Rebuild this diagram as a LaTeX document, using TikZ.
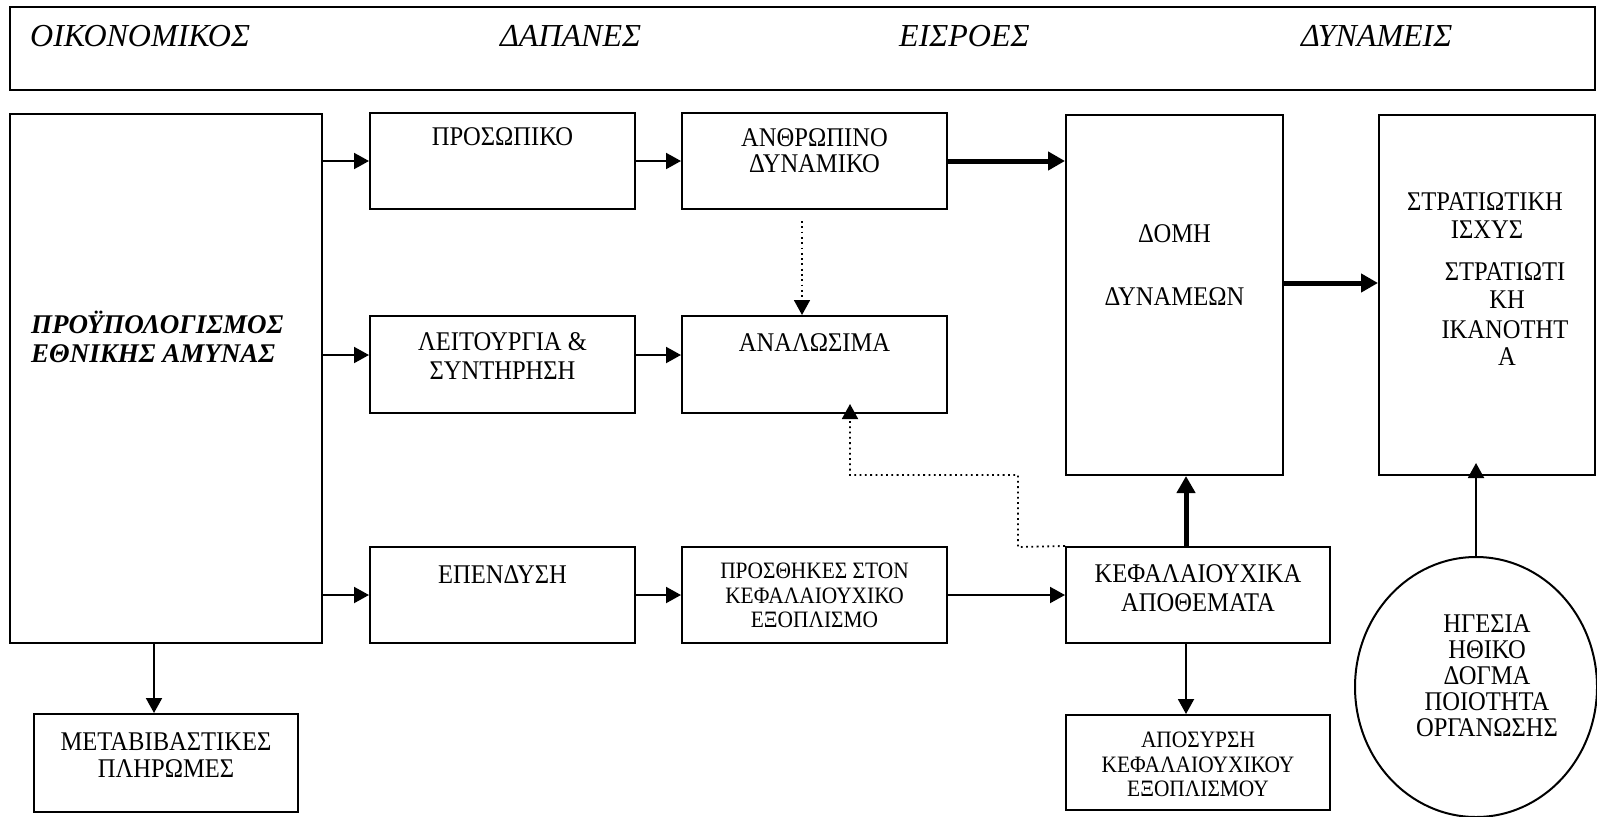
\documentclass[tikz,border=0pt]{standalone}
\usepackage{fontspec}
\setmainfont{Liberation Serif}[FakeStretch=0.91]
\newfontfamily\wideserif{Liberation Serif}
\usetikzlibrary{arrows.meta,shapes.geometric}
\begin{document}
\begin{tikzpicture}[x=1pt,y=-1pt,
  box/.style={draw, line width=2pt, rectangle, inner sep=0pt},
  oval/.style={draw, line width=2pt, ellipse, inner sep=0pt},
  txt/.style={inner sep=0pt, anchor=base, font=\fontsize{27}{29}\selectfont},
  stxt/.style={inner sep=0pt, anchor=base, font=\fontsize{23.5}{25}\selectfont},
  htxt/.style={inner sep=0pt, anchor=base west, font=\wideserif\itshape\fontsize{32}{36}\selectfont},
  btxt/.style={inner sep=0pt, anchor=base west, font=\wideserif\bfseries\itshape\fontsize{27}{30}\selectfont},
  arr/.style={line width=2pt, -{Triangle[length=15pt,width=16pt]}},
  thick arr/.style={line width=5pt, -{Triangle[length=17pt,width=18pt]}},
  dot arr/.style={line width=1.8pt, dash pattern=on 1.8pt off 3.5pt, -{Triangle[length=15pt,width=16pt]}}
]
\useasboundingbox (0,0) rectangle (1597,816);

% boxes
\node[box, minimum width=1585pt, minimum height=83pt] (hdr) at (802.5,48.5) {};
\node[box, minimum width=312pt, minimum height=529pt] (bud) at (166,378.5) {};
\node[box, minimum width=265pt, minimum height=96pt] (pros) at (502.5,161) {};
\node[box, minimum width=265pt, minimum height=96pt] (anth) at (814.5,161) {};
\node[box, minimum width=265pt, minimum height=97pt] (leit) at (502.5,364.5) {};
\node[box, minimum width=265pt, minimum height=97pt] (anal) at (814.5,364.5) {};
\node[box, minimum width=265pt, minimum height=96pt] (epen) at (502.5,595) {};
\node[box, minimum width=265pt, minimum height=96pt] (prost) at (814.5,595) {};
\node[box, minimum width=217pt, minimum height=360pt] (domi) at (1174.5,295) {};
\node[box, minimum width=216pt, minimum height=360pt] (strat) at (1487,295) {};
\node[box, minimum width=264pt, minimum height=96pt] (kef) at (1198,595) {};
\node[box, minimum width=264pt, minimum height=95pt] (apos) at (1198,762.5) {};
\node[box, minimum width=264pt, minimum height=98pt] (metab) at (166,763) {};
\node[oval, minimum width=242pt, minimum height=260pt] (ell) at (1476,687) {};

% header texts
\node[htxt] (h1) at (30,47) {ΟΙΚΟΝΟΜΙΚΟΣ};
\node[htxt] (h2) at (500,47) {ΔΑΠΑΝΕΣ};
\node[htxt] (h3) at (899,47) {ΕΙΣΡΟΕΣ};
\node[htxt] (h4) at (1301,47) {ΔΥΝΑΜΕΙΣ};

% budget
\node[btxt] (b1) at (31,333) {ΠΡΟΫΠΟΛΟΓΙΣΜΟΣ};
\node[btxt] (b2) at (31,362) {ΕΘΝΙΚΗΣ ΑΜΥΝΑΣ};

% box texts
\node[txt] (tpros) at (502.5,145) {ΠΡΟΣΩΠΙΚΟ};
\node[txt] (tanth1) at (814.5,146) {ΑΝΘΡΩΠΙΝΟ};
\node[txt] (tanth2) at (814.5,172) {ΔΥΝΑΜΙΚΟ};
\node[txt] (tleit1) at (502.5,350) {ΛΕΙΤΟΥΡΓΙΑ \&};
\node[txt] (tleit2) at (502.5,379) {ΣΥΝΤΗΡΗΣΗ};
\node[txt] (tanal) at (814.5,351) {ΑΝΑΛΩΣΙΜΑ};
\node[txt] (tepen) at (502.5,583) {ΕΠΕΝΔΥΣΗ};
\node[stxt] (tprost1) at (814.5,578) {ΠΡΟΣΘΗΚΕΣ ΣΤΟΝ};
\node[stxt] (tprost2) at (814.5,603) {ΚΕΦΑΛΑΙΟΥΧΙΚΟ};
\node[stxt] (tprost3) at (814.5,627) {ΕΞΟΠΛΙΣΜΟ};
\node[txt] (tkef1) at (1198,582) {ΚΕΦΑΛΑΙΟΥΧΙΚΑ};
\node[txt] (tkef2) at (1198,611) {ΑΠΟΘΕΜΑΤΑ};
\node[stxt] (tapos1) at (1198,747) {ΑΠΟΣΥΡΣΗ};
\node[stxt] (tapos2) at (1198,772) {ΚΕΦΑΛΑΙΟΥΧΙΚΟΥ};
\node[stxt] (tapos3) at (1198,796) {ΕΞΟΠΛΙΣΜΟΥ};
\node[txt] (tmetab1) at (166,750) {ΜΕΤΑΒΙΒΑΣΤΙΚΕΣ};
\node[txt] (tmetab2) at (166,777) {ΠΛΗΡΩΜΕΣ};
\node[txt] (tdomi1) at (1174.5,242) {ΔΟΜΗ};
\node[txt] (tdomi2) at (1174.5,305) {ΔΥΝΑΜΕΩΝ};
\node[txt] (tstrat1) at (1485,210) {ΣΤΡΑΤΙΩΤΙΚΗ};
\node[txt] (tstrat2) at (1487,238) {ΙΣΧΥΣ};
\node[txt] (tstrat3) at (1505,280) {ΣΤΡΑΤΙΩΤΙ};
\node[txt] (tstrat4) at (1507,308) {ΚΗ};
\node[txt] (tstrat5) at (1505,338) {ΙΚΑΝΟΤΗΤ};
\node[txt] (tstrat6) at (1507,365) {Α};
\node[txt] (tell1) at (1487,632) {ΗΓΕΣΙΑ};
\node[txt] (tell2) at (1487,658) {ΗΘΙΚΟ};
\node[txt] (tell3) at (1487,684) {ΔΟΓΜΑ};
\node[txt] (tell4) at (1487,710) {ΠΟΙΟΤΗΤΑ};
\node[txt] (tell5) at (1487,736) {ΟΡΓΑΝΩΣΗΣ};

% helper coordinates
\coordinate (leitIn) at ([yshift=9.5pt]leit.west);
\coordinate (analIn) at ([yshift=9.5pt]anal.west);
\coordinate (metabIn) at ([xshift=-12pt]metab.north);
\coordinate (kefTop) at ([xshift=-12pt]kef.north);
\coordinate (kefBot) at ([xshift=-12pt]kef.south);
\coordinate (domiOut) at ([yshift=12pt]domi.east);
\coordinate (anthBot) at ([xshift=-12.5pt]anth.south);
\coordinate (analBot) at ([xshift=35.5pt]anal.south);
\coordinate (d1) at (1018,547);
\coordinate (d2) at (1018,475);

% thin arrows
\draw[arr] (bud.east |- pros.west) -- (pros.west);
\draw[arr] (bud.east |- leitIn) -- (leitIn);
\draw[arr] (bud.east |- epen.west) -- (epen.west);
\draw[arr] (pros.east) -- (anth.west);
\draw[arr] (leit.east |- analIn) -- (analIn);
\draw[arr] (epen.east) -- (prost.west);
\draw[arr] (prost.east) -- (kef.west);
\draw[arr] (metabIn |- bud.south) -- (metabIn);
\draw[arr] (kefBot) -- (kefBot |- apos.north);
\draw[arr, shorten >=-13pt] (ell.north) -- (ell.north |- strat.south);

% thick arrows
\draw[thick arr] (anth.east) -- (anth.east -| domi.west);
\draw[thick arr] (domiOut) -- (domiOut -| strat.west);
\draw[thick arr] (kefTop) -- (kefTop |- domi.south);

% dotted arrows
\draw[dot arr, shorten <=11pt] (anthBot) -- (anthBot |- anal.north);
\draw[dot arr, shorten >=-10pt] (kef.north west) -- (d1) -- (d2) -| (analBot);
\end{tikzpicture}
\end{document}
